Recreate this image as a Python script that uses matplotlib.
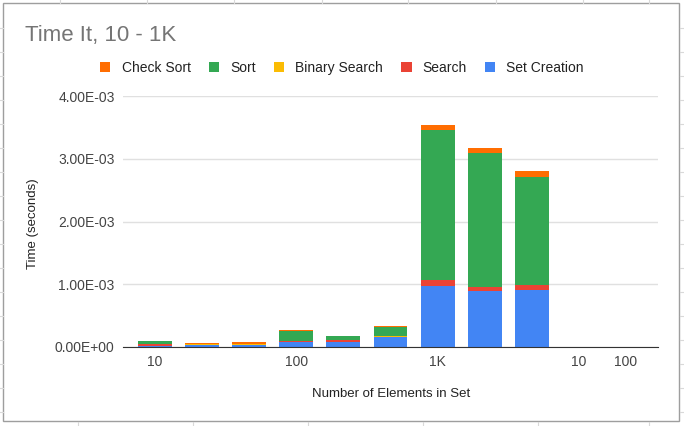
import numpy as np
import matplotlib.pyplot as plt
from matplotlib.patches import Patch, Rectangle
from matplotlib.lines import Line2D

plt.rcParams['font.family'] = ['Liberation Sans', 'DejaVu Sans']

# categories (only some labels are shown on the axis)
categories = ["10", "20", "50", "100", "200", "500", "1K", "2K", "5K", "10", "100"]
tick_labels = ["10", "", "", "100", "", "", "1K", "", "", "10", "100"]

# times in seconds, bottom to top of each stack
set_creation = np.array([0.020, 0.025, 0.030, 0.075, 0.085, 0.155, 0.970, 0.890, 0.910, 0, 0]) * 1e-3
search = np.array([0.030, 0.005, 0.005, 0.015, 0.020, 0.005, 0.100, 0.070, 0.080, 0, 0]) * 1e-3
binary_search = np.array([0.002, 0.010, 0.010, 0.002, 0.002, 0.010, 0.005, 0.003, 0.003, 0, 0]) * 1e-3
sort = np.array([0.040, 0.005, 0.005, 0.170, 0.065, 0.145, 2.390, 2.130, 1.720, 0, 0]) * 1e-3
check_sort = np.array([0.005, 0.020, 0.035, 0.003, 0.003, 0.015, 0.080, 0.080, 0.090, 0, 0]) * 1e-3

series = [
    ("Set Creation", set_creation, "#4285F4"),
    ("Search", search, "#EA4335"),
    ("Binary Search", binary_search, "#FBBC04"),
    ("Sort", sort, "#34A853"),
    ("Check Sort", check_sort, "#FF6D01"),
]

fig = plt.figure(figsize=(6.84, 4.26), dpi=100)
ax = fig.add_axes([123 / 684, 1 - 347 / 426, 535 / 684, 251 / 426])

x = np.arange(len(categories))
bottom = np.zeros(len(categories))
for name, vals, color in series:
    ax.bar(x, vals, 0.72, bottom=bottom, color=color, label=name, zorder=2)
    bottom += vals

ax.set_xlim(-0.68, len(categories) - 1 + 0.68)
ax.set_ylim(0, 4e-3)
ax.set_yticks(np.arange(0, 4.01e-3, 1e-3))
ax.set_yticklabels(["0.00E+00", "1.00E-03", "2.00E-03", "3.00E-03", "4.00E-03"])
ax.set_xticks(x)
ax.set_xticklabels(tick_labels)
ax.tick_params(axis='both', length=0, labelsize=10, labelcolor='#444444')
ax.tick_params(axis='y', pad=6)
ax.tick_params(axis='x', pad=6)
ax.grid(axis='y', color='#e0e0e0', linewidth=1, zorder=0)
for s in ['top', 'right', 'left']:
    ax.spines[s].set_visible(False)
ax.spines['bottom'].set_color('#333333')
ax.spines['bottom'].set_zorder(3)

fig.text(33 / 684, 1 - 224 / 426, "Time (seconds)", rotation=90, ha='center', va='center',
         fontsize=9.5, color='#222222')
fig.text(391 / 684, 1 - 394 / 426, "Number of Elements in Set", ha='center', va='center',
         fontsize=9.5, color='#222222')
fig.text(25 / 684, 1 - 36 / 426, "Time It, 10 - 1K", ha='left', va='center',
         fontsize=16, color='#757575')

handles = [Patch(facecolor=c, edgecolor='none', label=n) for n, _, c in series[::-1]]
fig.legend(handles=handles, loc='center', bbox_to_anchor=(342 / 684, 1 - 68 / 426),
           ncol=5, frameon=False, fontsize=10, handlelength=0.75, handleheight=0.75,
           handletextpad=0.8, columnspacing=1.3, labelcolor='#222222')

# chart border and spreadsheet grid stubs around it
fig.patches.append(Rectangle((3 / 684, 1 - 421 / 426), 676 / 684, 418 / 426,
                             transform=fig.transFigure, fill=False,
                             edgecolor='#9e9e9e', linewidth=1))
for yy in np.arange(28, 421, 24):
    fig.add_artist(Line2D([679.5 / 684, 1], [1 - yy / 426] * 2, color='#d9d9d9', lw=0.8))
    fig.add_artist(Line2D([0, 3 / 684], [1 - yy / 426] * 2, color='#d9d9d9', lw=0.8))
for xx in [60, 147, 234, 322, 408, 496, 583, 649]:
    fig.add_artist(Line2D([xx / 684] * 2, [1 - 3 / 426, 1], color='#d9d9d9', lw=0.8))
for xx in [78, 193, 308, 423, 538, 649]:
    fig.add_artist(Line2D([xx / 684] * 2, [0, 1 - 421.5 / 426], color='#d9d9d9', lw=0.8))

fig.savefig("out.png", dpi=100)
